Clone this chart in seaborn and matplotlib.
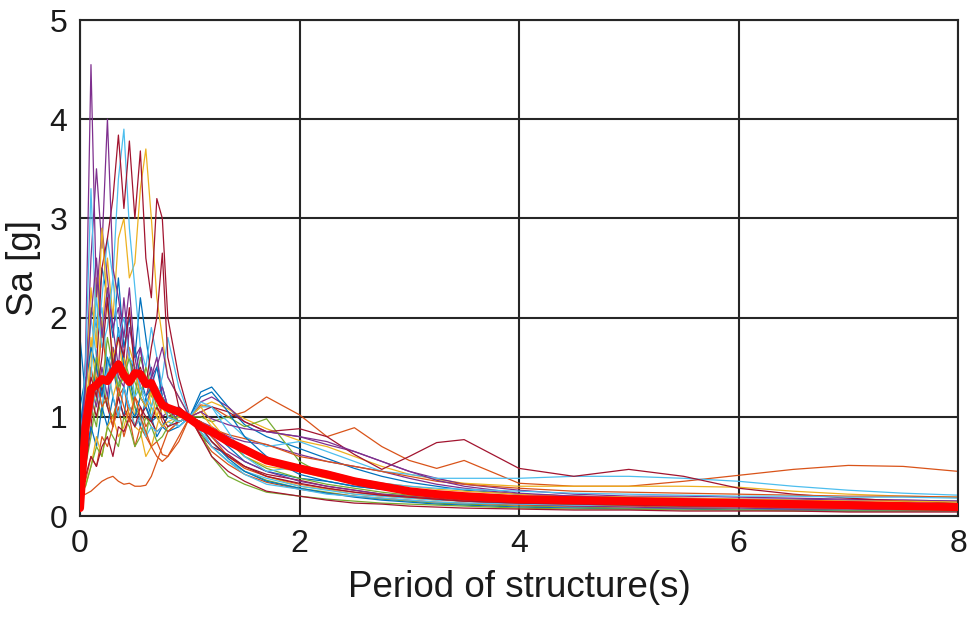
import matplotlib
matplotlib.use("Agg")
import matplotlib.pyplot as plt
import seaborn as sns
import pandas as pd

# Periods (s)
periods = [0, 0.05, 0.1, 0.15, 0.2, 0.25, 0.3, 0.35, 0.4, 0.45, 0.5, 0.55, 0.6, 0.65, 0.7, 0.75,
           0.8, 0.9, 1.0, 1.1, 1.2, 1.35, 1.5, 1.7, 2.0, 2.25, 2.5, 2.75, 3.0, 3.25, 3.5, 4.0,
           4.5, 5.0, 5.5, 6.0, 6.5, 7.0, 7.5, 8.0]

# Individual record spectra Sa [g]
blue_1 = [1.8, 1.2, 2.1, 1.9, 2.5, 2.2, 1.8, 2.4, 1.7, 2.0, 1.6, 2.2, 1.8, 1.4, 1.2, 1.3, 1.1, 1.0, 1.0, 1.25,
          1.3, 1.1, 0.92, 0.8, 0.68, 0.58, 0.48, 0.4, 0.34, 0.3, 0.26, 0.22, 0.2, 0.18, 0.17, 0.16, 0.15, 0.14, 0.13, 0.12]
orange_1 = [0.2, 0.22, 0.25, 0.3, 0.35, 0.38, 0.4, 0.35, 0.32, 0.33, 0.3, 0.3, 0.31, 0.4, 0.55, 0.7, 0.85, 0.95, 1.0, 1.12,
            1.1, 1.0, 1.05, 1.2, 1.02, 0.8, 0.89, 0.7, 0.56, 0.48, 0.56, 0.33, 0.3, 0.3, 0.35, 0.41, 0.47, 0.51, 0.5, 0.45]
yellow_1 = [0.5, 0.9, 1.5, 2.4, 1.8, 2.6, 2.0, 2.8, 3.0, 2.4, 2.55, 3.3, 3.7, 3.0, 2.2, 1.8, 1.4, 1.2, 1.0, 0.9,
            0.75, 0.6, 0.5, 0.4, 0.3, 0.27, 0.22, 0.2, 0.18, 0.16, 0.15, 0.13, 0.12, 0.11, 0.1, 0.1, 0.09, 0.09, 0.09, 0.08]
purple_1 = [0.5, 1.6, 4.55, 2.2, 2.9, 2.4, 1.9, 2.1, 1.6, 1.3, 1.5, 1.2, 1.1, 1.3, 1.2, 1.0, 1.05, 1.1, 1.0, 0.95,
            0.9, 0.8, 0.75, 0.72, 0.62, 0.55, 0.5, 0.45, 0.38, 0.32, 0.28, 0.22, 0.2, 0.19, 0.18, 0.17, 0.17, 0.16, 0.16, 0.15]
green_1 = [0.3, 0.5, 0.8, 1.2, 1.0, 1.5, 1.7, 1.3, 1.6, 1.4, 1.2, 1.6, 1.4, 1.2, 1.3, 1.1, 1.0, 1.05, 1.0, 0.85,
           0.7, 0.55, 0.45, 0.36, 0.28, 0.24, 0.2, 0.17, 0.15, 0.13, 0.12, 0.1, 0.09, 0.08, 0.08, 0.07, 0.07, 0.06, 0.06, 0.06]
lightblue_1 = [0.6, 1.2, 2.0, 1.6, 2.2, 2.8, 2.4, 3.4, 3.9, 2.9, 2.3, 1.7, 1.5, 1.9, 1.6, 1.3, 1.1, 0.9, 1.0, 0.9,
               0.7, 0.55, 0.45, 0.38, 0.3, 0.26, 0.22, 0.2, 0.18, 0.16, 0.15, 0.13, 0.12, 0.11, 0.1, 0.1, 0.09, 0.09, 0.08, 0.08]
darkred_1 = [0.3, 0.5, 0.9, 1.5, 2.5, 2.8, 3.2, 3.84, 3.1, 3.78, 3.0, 3.68, 2.6, 2.2, 3.2, 3.0, 2.0, 1.4, 1.0, 0.82,
             0.7, 0.62, 0.5, 0.42, 0.36, 0.3, 0.26, 0.22, 0.2, 0.18, 0.16, 0.13, 0.12, 0.11, 0.1, 0.1, 0.09, 0.09, 0.08, 0.08]
blue_2 = [1.1, 1.4, 1.0, 1.6, 1.3, 1.1, 1.5, 1.2, 1.0, 1.4, 1.1, 0.9, 1.2, 1.0, 0.8, 0.9, 0.85, 0.9, 1.0, 0.95,
          0.85, 0.7, 0.55, 0.45, 0.38, 0.35, 0.3, 0.27, 0.25, 0.23, 0.22, 0.2, 0.18, 0.17, 0.16, 0.15, 0.14, 0.13, 0.12, 0.12]
orange_2 = [0.6, 0.9, 1.5, 1.2, 1.9, 1.4, 1.6, 1.2, 1.3, 1.0, 1.2, 1.1, 0.9, 1.0, 1.1, 0.95, 0.85, 0.95, 1.0, 0.8,
            0.65, 0.52, 0.42, 0.34, 0.27, 0.23, 0.2, 0.18, 0.16, 0.14, 0.13, 0.11, 0.1, 0.1, 0.09, 0.09, 0.08, 0.08, 0.08, 0.07]
yellow_2 = [0.4, 0.8, 1.8, 1.3, 2.0, 1.5, 1.2, 1.4, 1.6, 1.3, 1.0, 1.2, 1.4, 1.1, 1.0, 1.2, 1.1, 1.05, 1.0, 1.1,
            1.15, 1.08, 0.98, 0.88, 0.76, 0.7, 0.6, 0.5, 0.42, 0.37, 0.33, 0.3, 0.3, 0.3, 0.3, 0.29, 0.25, 0.22, 0.2, 0.19]
purple_2 = [0.4, 1.2, 2.6, 3.5, 2.7, 4.0, 2.5, 2.2, 1.8, 2.3, 1.6, 1.7, 1.3, 1.4, 1.6, 1.2, 1.1, 1.0, 1.0, 1.15,
            1.2, 1.1, 0.95, 0.85, 0.8, 0.72, 0.65, 0.55, 0.45, 0.38, 0.32, 0.26, 0.22, 0.2, 0.2, 0.19, 0.18, 0.17, 0.16, 0.15]
green_2 = [0.5, 0.6, 1.1, 0.9, 1.4, 1.1, 1.0, 1.2, 1.5, 1.3, 1.1, 1.0, 0.8, 1.1, 1.3, 1.2, 1.0, 1.0, 1.0, 1.0,
           0.95, 1.0, 0.9, 0.98, 0.55, 0.4, 0.32, 0.28, 0.24, 0.22, 0.2, 0.17, 0.15, 0.13, 0.12, 0.11, 0.1, 0.1, 0.09, 0.09]
lightblue_2 = [0.8, 1.5, 3.3, 1.8, 2.1, 1.5, 1.7, 1.3, 1.4, 1.6, 1.2, 1.3, 1.1, 1.0, 1.2, 1.4, 1.8, 1.3, 1.0, 1.1,
               1.1, 0.95, 0.8, 0.7, 0.75, 0.65, 0.55, 0.45, 0.42, 0.38, 0.38, 0.38, 0.4, 0.4, 0.38, 0.35, 0.3, 0.26, 0.23, 0.21]
darkred_2 = [0.5, 0.8, 1.2, 1.0, 1.3, 1.1, 0.9, 1.2, 1.0, 1.1, 0.9, 1.0, 1.1, 0.95, 0.85, 0.9, 1.0, 1.05, 1.0, 1.05,
             1.1, 1.05, 0.95, 0.85, 0.88, 0.8, 0.62, 0.47, 0.6, 0.74, 0.77, 0.48, 0.4, 0.47, 0.4, 0.28, 0.22, 0.18, 0.15, 0.13]
blue_3 = [0.5, 0.6, 0.9, 0.7, 1.1, 0.9, 1.2, 1.0, 1.3, 1.1, 1.0, 1.2, 1.1, 0.95, 1.0, 0.9, 1.0, 0.95, 1.0, 0.9,
          0.75, 0.58, 0.45, 0.35, 0.28, 0.23, 0.19, 0.16, 0.14, 0.12, 0.11, 0.09, 0.08, 0.07, 0.07, 0.06, 0.06, 0.05, 0.05, 0.05]
orange_3 = [0.3, 0.35, 0.6, 0.5, 0.8, 0.7, 0.9, 1.1, 0.8, 1.0, 0.7, 0.9, 0.8, 0.7, 0.75, 0.62, 0.6, 0.8, 1.0, 0.95,
            0.88, 0.82, 0.78, 0.72, 0.6, 0.55, 0.5, 0.45, 0.4, 0.35, 0.32, 0.28, 0.25, 0.24, 0.23, 0.22, 0.21, 0.2, 0.2, 0.19]
yellow_3 = [0.3, 0.3, 0.5, 0.8, 0.6, 0.9, 1.0, 0.8, 0.9, 1.1, 0.9, 0.85, 0.6, 0.7, 0.9, 1.1, 1.0, 0.95, 1.0, 1.1,
            0.95, 0.75, 0.6, 0.5, 0.45, 0.38, 0.33, 0.3, 0.27, 0.25, 0.23, 0.2, 0.18, 0.16, 0.15, 0.14, 0.13, 0.12, 0.12, 0.11]
purple_3 = [0.6, 1.0, 1.3, 1.1, 1.5, 1.2, 1.7, 1.4, 1.3, 1.9, 1.6, 1.3, 1.2, 1.4, 1.5, 1.7, 1.4, 1.2, 1.0, 0.9,
            0.8, 0.65, 0.55, 0.45, 0.35, 0.3, 0.26, 0.22, 0.2, 0.17, 0.15, 0.12, 0.1, 0.09, 0.08, 0.08, 0.07, 0.07, 0.06, 0.06]
green_3 = [0.2, 0.3, 0.5, 0.7, 0.6, 0.9, 0.8, 0.7, 1.0, 0.9, 0.7, 0.8, 1.0, 0.9, 0.75, 0.8, 0.9, 1.0, 1.0, 0.85,
           0.6, 0.4, 0.32, 0.24, 0.2, 0.17, 0.15, 0.13, 0.12, 0.11, 0.1, 0.08, 0.07, 0.07, 0.06, 0.06, 0.05, 0.05, 0.05, 0.05]
lightblue_3 = [0.4, 0.7, 1.0, 1.3, 1.1, 1.5, 1.2, 1.0, 1.3, 1.1, 0.9, 1.0, 0.8, 0.9, 0.85, 0.9, 0.95, 0.9, 1.0, 0.85,
               0.7, 0.55, 0.42, 0.32, 0.27, 0.22, 0.2, 0.18, 0.16, 0.14, 0.13, 0.12, 0.11, 0.11, 0.1, 0.1, 0.09, 0.09, 0.08, 0.08]
darkred_3 = [0.3, 0.4, 0.6, 0.5, 0.7, 0.8, 0.6, 0.9, 0.85, 1.0, 0.9, 1.1, 1.0, 0.95, 1.1, 1.0, 0.9, 0.95, 1.0, 0.8,
             0.6, 0.45, 0.35, 0.25, 0.2, 0.16, 0.13, 0.12, 0.1, 0.09, 0.08, 0.07, 0.06, 0.06, 0.05, 0.05, 0.05, 0.04, 0.04, 0.04]
blue_4 = [0.9, 1.3, 1.7, 1.5, 1.2, 1.6, 1.4, 1.9, 1.5, 1.3, 1.7, 1.4, 1.2, 1.3, 1.5, 1.2, 1.1, 1.0, 1.0, 1.2,
          1.25, 1.05, 0.8, 0.6, 0.42, 0.35, 0.3, 0.27, 0.24, 0.21, 0.19, 0.16, 0.14, 0.13, 0.12, 0.11, 0.11, 0.1, 0.1, 0.09]
orange_4 = [0.5, 0.7, 1.0, 1.4, 1.1, 1.2, 0.9, 1.3, 1.1, 0.95, 1.2, 1.0, 0.85, 0.7, 0.6, 0.55, 0.6, 0.75, 1.0, 0.95,
            0.8, 0.6, 0.48, 0.4, 0.32, 0.28, 0.24, 0.21, 0.19, 0.17, 0.15, 0.13, 0.12, 0.11, 0.1, 0.1, 0.09, 0.09, 0.08, 0.08]
yellow_4 = [0.7, 1.1, 2.3, 1.7, 2.9, 2.1, 1.6, 1.8, 1.4, 1.7, 1.5, 1.2, 1.1, 1.25, 1.0, 0.9, 0.95, 1.0, 1.0, 1.05,
            0.9, 0.75, 0.65, 0.55, 0.45, 0.4, 0.36, 0.33, 0.3, 0.27, 0.25, 0.22, 0.2, 0.19, 0.18, 0.17, 0.16, 0.15, 0.15, 0.14]
purple_4 = [0.7, 1.3, 2.0, 2.6, 1.8, 2.3, 1.9, 1.5, 2.2, 1.6, 1.4, 1.7, 1.3, 1.5, 1.2, 1.3, 1.1, 0.95, 1.0, 1.05,
            0.98, 0.92, 0.88, 0.85, 0.8, 0.75, 0.65, 0.55, 0.45, 0.36, 0.3, 0.23, 0.2, 0.18, 0.17, 0.16, 0.15, 0.14, 0.13, 0.12]
green_4 = [0.4, 0.8, 1.2, 1.6, 1.3, 1.8, 1.5, 1.3, 1.4, 1.6, 1.35, 1.2, 1.5, 1.3, 1.1, 1.2, 1.05, 0.95, 1.0, 0.9,
           0.82, 0.75, 0.6, 0.48, 0.38, 0.32, 0.28, 0.24, 0.21, 0.19, 0.17, 0.14, 0.12, 0.11, 0.1, 0.1, 0.09, 0.09, 0.08, 0.08]
lightblue_4 = [0.5, 0.9, 1.4, 2.2, 1.7, 1.9, 2.4, 1.8, 2.0, 1.6, 1.5, 1.3, 1.2, 1.1, 1.3, 1.2, 1.0, 0.95, 1.0, 1.15,
               1.1, 0.85, 0.6, 0.45, 0.5, 0.45, 0.38, 0.33, 0.3, 0.28, 0.27, 0.25, 0.23, 0.22, 0.21, 0.2, 0.2, 0.19, 0.19, 0.18]
darkred_4 = [0.6, 1.0, 1.4, 1.2, 1.6, 2.2, 1.5, 1.8, 1.6, 2.1, 1.4, 1.5, 1.3, 1.7, 2.0, 2.65, 1.6, 1.1, 1.0, 0.9,
             0.75, 0.6, 0.5, 0.4, 0.33, 0.28, 0.24, 0.21, 0.19, 0.17, 0.15, 0.13, 0.12, 0.11, 0.1, 0.1, 0.09, 0.09, 0.08, 0.08]

# Mean spectrum
mean_sa = [0.08, 0.9, 1.28, 1.32, 1.38, 1.36, 1.45, 1.53, 1.42, 1.35, 1.44, 1.43, 1.33, 1.34, 1.22, 1.12,
           1.09, 1.05, 0.98, 0.9, 0.85, 0.75, 0.67, 0.56, 0.48, 0.42, 0.35, 0.3, 0.25, 0.22, 0.2, 0.17,
           0.16, 0.15, 0.14, 0.13, 0.12, 0.11, 0.1, 0.09]

records = [blue_1, orange_1, yellow_1, purple_1, green_1, lightblue_1, darkred_1,
           blue_2, orange_2, yellow_2, purple_2, green_2, lightblue_2, darkred_2,
           blue_3, orange_3, yellow_3, purple_3, green_3, lightblue_3, darkred_3,
           blue_4, orange_4, yellow_4, purple_4, green_4, lightblue_4, darkred_4]
palette = ['#0072BD', '#D95319', '#EDB120', '#7E2F8E', '#77AC30', '#4DBEEE', '#A2142F']

x_ticks = [0, 2, 4, 6, 8]
y_ticks = [0, 1, 2, 3, 4, 5]

sns.set_style("white")
plt.rcParams['font.family'] = ['Liberation Sans', 'DejaVu Sans']

fig = plt.figure(figsize=(9.68, 6.2), dpi=100)
ax = fig.add_axes([80 / 968, 104 / 620, 878 / 968, 496 / 620])

for i, rec in enumerate(records):
    df = pd.DataFrame({"T": periods, "Sa": rec})
    sns.lineplot(data=df, x="T", y="Sa", ax=ax, color=palette[i % 7], lw=0.9, sort=False)

df_mean = pd.DataFrame({"T": periods, "Sa": mean_sa})
sns.lineplot(data=df_mean, x="T", y="Sa", ax=ax, color='#FF0000', lw=5.8, sort=False,
             solid_joinstyle='round', solid_capstyle='round', zorder=5)

ax.set_xlim(0, 8)
ax.set_ylim(0, 5)
ax.set_xticks(x_ticks)
ax.set_yticks(y_ticks)
ax.set_xticklabels([str(v) for v in x_ticks])
ax.set_yticklabels([str(v) for v in y_ticks])
ax.grid(True, color='#262626', lw=1.5)
ax.set_axisbelow(True)
ax.tick_params(axis='both', labelsize=23, length=0, pad=9, colors='#1a1a1a')
for s in ax.spines.values():
    s.set_color('#262626')
    s.set_linewidth(1.5)
ax.set_xlabel("Period of structure(s)", fontsize=26.5, color='#1a1a1a', labelpad=8)
ax.set_ylabel("Sa [g]", fontsize=26.5, color='#1a1a1a', labelpad=6)

fig.savefig("out.png", dpi=100, facecolor='white')
